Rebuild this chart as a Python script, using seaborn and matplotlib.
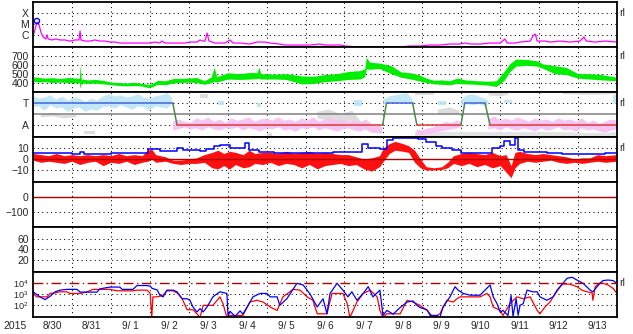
import numpy as np
import matplotlib
matplotlib.use("Agg")
import matplotlib.pyplot as plt
import seaborn as sns
import pandas as pd

sns.set_style("white")
plt.rcParams['font.family'] = ['Liberation Sans', 'DejaVu Sans']
plt.rcParams['mathtext.fontset'] = 'custom'
plt.rcParams['mathtext.rm'] = 'Liberation Sans'
plt.rcParams['mathtext.it'] = 'Liberation Sans'
plt.rcParams['mathtext.default'] = 'regular'

NaN = np.nan

# ---------------- data (time in days since 8/30 00:00) ----------------
day_labels = ["8/30", "8/31", "9/ 1", "9/ 2", "9/ 3", "9/ 4", "9/ 5", "9/ 6",
              "9/ 7", "9/ 8", "9/ 9", "9/10", "9/11", "9/12", "9/13"]
year_label = "2015"

# X-ray flux (log10 W/m2)
xray_t = [0.00, 0.05, 0.10, 0.15, 0.21, 0.26, 0.33, 0.36, 0.39, 0.49, 0.59, 0.69, 0.82, 0.95,
          1.08, 1.18, 1.21, 1.23, 1.34, 1.46, 1.59, 1.72, 1.85, 1.98, 2.11, 2.23, 2.49, 2.75,
          3.01, 3.13, 3.26, 3.31, 3.39, 3.65, 3.90, 4.03, 4.21, 4.29, 4.37, 4.42, 4.47, 4.52,
          4.60, 4.68, 4.93, 5.06, 5.14, 5.32, 5.57, 5.75, 5.96, 6.09, 6.34, 6.47, 6.86, 7.12,
          7.37, 7.50, 7.89, 8.01, 8.40, 9.43, 9.68, 9.94, 10.20, 10.45, 10.71, 10.97, 11.10,
          11.23, 11.48, 11.74, 12.00, 12.12, 12.18, 12.38, 12.51, 12.77, 12.84, 12.90, 12.95,
          13.15, 13.28, 13.54, 13.79, 14.05, 14.15, 14.21, 14.44, 14.69, 15.00]
xray_log = [-6.09, -5.55, -4.82, -5.00, -5.82, -6.18, -6.36, -6.00, -6.36, -6.45, -6.36, -6.45,
            -6.45, -6.55, -6.45, -6.45, -5.64, -6.45, -6.55, -6.55, -6.45, -6.55, -6.55, -6.64,
            -6.64, -6.73, -6.73, -6.73, -6.73, -6.64, -6.73, -6.55, -6.73, -6.73, -6.73, -6.64,
            -6.64, -6.45, -6.55, -6.55, -5.82, -6.55, -6.64, -6.73, -6.73, -6.45, -6.73, -6.73,
            -6.82, -6.64, -6.64, -6.73, -6.82, -6.91, -6.91, -6.91, -6.82, -6.91, -6.91, -7.00,
            -7.09, -7.09, -7.00, -7.00, -6.91, -6.91, -6.82, -6.82, -6.73, -6.82, -6.82, -6.73,
            -6.73, -6.36, -6.73, -6.73, -6.64, -6.55, -6.09, -5.91, -6.55, -6.55, -6.64, -6.55,
            -6.64, -6.55, -6.18, -6.55, -6.64, -6.55, -6.64]
flare_t = [0.10]
flare_log = [-4.73]
xray_ticks = [1e-6, 1e-5, 1e-4]
xray_labels = ["C", "M", "X"]

# Solar wind speed envelope (km/s)
speed_t = [0.00, 0.15, 0.30, 0.50, 0.70, 0.90, 1.10, 1.19, 1.21, 1.24, 1.40, 1.60, 1.80, 2.00,
           2.20, 2.40, 2.60, 2.80, 2.95, 3.05, 3.20, 3.40, 3.60, 3.80, 4.00, 4.20, 4.40, 4.58,
           4.65, 4.72, 5.00, 5.30, 5.60, 5.75, 5.80, 5.85, 6.20, 6.50, 6.90, 7.20, 7.50, 7.80,
           8.10, 8.40, 8.52, 8.56, 8.65, 8.90, 9.20, 9.45, 9.70, 9.90, 10.10, 10.30, 10.50,
           10.70, 10.90, 11.10, 11.40, 11.70, 11.90, 12.10, 12.25, 12.40, 12.70, 12.95, 13.10,
           13.40, 13.70, 14.00, 14.30, 14.60, 15.00]
speed_lo = [420, 410, 415, 405, 410, 405, 400, 405, 340, 400, 395, 398, 390, 380, 372, 368, 372,
            365, 350, 355, 385, 380, 400, 405, 410, 405, 385, 405, 420, 410, 445, 440, 445, 450,
            455, 445, 445, 440, 390, 395, 415, 425, 440, 445, 470, 560, 555, 565, 505, 465, 445,
            425, 405, 390, 385, 380, 395, 390, 385, 375, 360, 430, 530, 590, 600, 590, 565, 505,
            495, 455, 445, 435, 425]
speed_hi = [470, 462, 455, 460, 450, 462, 455, 450, 600, 445, 435, 440, 430, 410, 405, 400, 408,
            395, 385, 390, 430, 425, 450, 452, 455, 462, 425, 470, 580, 470, 515, 505, 520, 515,
            580, 505, 500, 505, 480, 475, 495, 505, 530, 540, 560, 690, 635, 625, 595, 525, 515,
            495, 455, 430, 435, 425, 455, 435, 425, 420, 425, 530, 620, 670, 665, 650, 615, 595,
            575, 505, 505, 495, 465]
speed_ticks = [400, 500, 600, 700]

# Magnetic classification step line (3 = T, 1 = A, 2 = boundary)
status_t = [0.00, 3.59, 3.70, 8.98, 9.08, 9.75, 9.86, 10.99, 11.09, 11.61, 11.74, 15.00]
status_v = [3, 3, 1, 1, 3, 3, 1, 1, 3, 3, 1, 1]
ta_ticks = [1, 3]
ta_labels = ["A", "T"]
ta_boundary = 2

cyan_t = [0.00, 0.15, 0.30, 0.45, 0.60, 0.75, 0.90, 1.05, 1.20, 1.35, 1.50, 1.65, 1.80, 1.95,
          2.10, 2.25, 2.40, 2.55, 2.70, 2.85, 3.00, 3.15, 3.30, 3.45, 3.57, 3.58,
          4.75, 4.90, 4.91, 5.75, 5.85, 5.86, 8.25, 8.45, 8.46,
          9.00, 9.15, 9.30, 9.45, 9.60, 9.75, 9.76, 10.40, 10.60, 10.61,
          11.00, 11.15, 11.30, 11.45, 11.60, 11.70, 11.71, 12.10, 12.30, 12.31, 14.90, 15.00]
cyan_lo = [2.6, 2.7, 2.3, 2.8, 2.5, 2.6, 2.2, 2.5, 2.6, 2.2, 2.4, 2.3, 2.6, 2.7, 2.5, 2.8, 2.6,
           2.4, 2.7, 2.6, 2.3, 2.7, 2.6, 2.5, 2.9, NaN,
           2.8, 2.8, NaN, 2.6, 2.6, NaN, 2.7, 2.7, NaN,
           2.9, 3.0, 3.0, 3.1, 3.0, 2.9, NaN, 2.8, 2.8, NaN,
           2.8, 2.9, 2.8, 2.9, 2.7, 2.8, NaN, 3.0, 3.0, NaN, 2.9, 2.9]
cyan_hi = [3.6, 3.4, 3.5, 3.7, 3.3, 3.6, 3.2, 3.5, 3.4, 3.1, 3.4, 3.2, 3.6, 3.8, 3.6, 3.7, 3.5,
           3.6, 3.8, 3.5, 3.4, 3.6, 3.7, 3.9, 3.5, NaN,
           3.2, 3.2, NaN, 3.0, 3.0, NaN, 3.3, 3.3, NaN,
           3.3, 3.6, 3.7, 3.8, 3.9, 3.4, NaN, 3.2, 3.2, NaN,
           3.3, 3.7, 3.8, 3.6, 3.4, 3.2, NaN, 3.3, 3.3, NaN, 3.7, 3.7]

pink_t = [3.60, 3.75, 3.90, 4.05, 4.20, 4.35, 4.50, 4.65, 4.80, 4.95, 5.10, 5.25, 5.40, 5.55,
          5.70, 5.85, 6.00, 6.15, 6.30, 6.45, 6.60, 6.75, 6.90, 7.05, 7.20, 7.35, 7.50, 7.65,
          7.80, 7.95, 8.10, 8.25, 8.40, 8.55, 8.70, 8.85, 8.97, 8.98,
          9.85, 10.00, 10.15, 10.30, 10.45, 10.60, 10.75, 10.90, 11.00, 11.01,
          11.70, 11.85, 12.00, 12.15, 12.30, 12.45, 12.60, 12.75, 12.90, 13.05, 13.20, 13.35,
          13.50, 13.65, 13.80, 13.95, 14.10, 14.25, 14.40, 14.55, 14.70, 14.85, 15.00]
pink_lo = [0.5, 0.6, 0.8, 0.6, 0.7, 0.5, 0.8, 0.6, 0.5, 0.7, 0.6, 0.8, 0.5, 0.7, 0.6, 0.4, 0.7,
           0.6, 0.8, 0.5, 0.6, 0.4, 0.7, 0.6, 0.8, 0.5, 0.7, 0.6, 0.4, 0.6, 0.7, 0.5, 0.4, 0.6,
           0.3, 0.4, 0.2, NaN,
           0.1, 0.1, 0.2, 0.3, 0.4, 0.5, 0.6, 0.7, 0.8, NaN,
           0.6, 0.7, 0.5, 0.8, 0.6, 0.5, 0.7, 0.6, 0.4, 0.7, 0.5, 0.6, 0.8, 0.5, 0.6, 0.4, 0.7,
           0.5, 0.6, 0.4, 0.3, 0.5, 0.6]
pink_hi = [1.3, 1.5, 1.3, 1.2, 1.6, 1.4, 1.7, 1.3, 1.5, 1.2, 1.6, 1.4, 1.5, 1.7, 1.3, 1.5, 1.6,
           1.4, 1.7, 1.4, 1.5, 1.3, 1.6, 1.4, 1.7, 1.3, 1.5, 1.6, 1.4, 1.5, 1.3, 1.4, 1.2, 1.5,
           1.1, 1.0, 0.8, NaN,
           0.6, 0.5, 0.7, 0.8, 1.0, 1.3, 1.2, 1.4, 1.2, NaN,
           1.5, 1.8, 1.4, 1.6, 1.4, 1.7, 1.5, 1.3, 1.6, 1.4, 1.5, 1.3, 1.6, 1.4, 1.5, 1.3, 1.6,
           1.2, 1.4, 1.1, 1.3, 1.5, 1.4]

gray_t = [0.20, 0.50, 0.80, 1.10, 1.11, 1.30, 1.60, 1.61, 4.30, 4.50, 4.51, 6.00, 6.15, 6.16,
          7.30, 7.60, 7.90, 8.20, 8.40, 8.70, 8.95, 8.96, 9.80, 10.30, 10.31,
          10.40, 10.70, 10.95, 10.96, 11.70, 12.00, 12.20, 12.21, 13.60, 14.30, 15.00]
gray_lo = [1.7, 1.8, 1.6, 1.7, NaN, 0.2, 0.2, NaN, 3.5, 3.5, NaN, 0.0, 0.0, NaN,
           1.6, 1.4, 1.2, 1.4, 0.9, 0.3, 0.2, NaN, 3.75, 3.75, NaN,
           1.9, 2.0, 2.0, NaN, 3.7, 3.6, 3.75, NaN, 3.8, 3.75, 3.8]
gray_hi = [1.95, 2.1, 1.9, 1.95, NaN, 0.5, 0.5, NaN, 3.8, 3.8, NaN, 0.3, 0.3, NaN,
           2.2, 2.4, 2.0, 2.3, 1.4, 0.8, 0.5, NaN, 3.95, 3.95, NaN,
           2.4, 2.6, 2.3, NaN, 3.95, 3.9, 3.95, NaN, 3.95, 3.95, 3.95]
gray2_t = [9.80, 10.30, 13.60, 14.30, 15.00]
gray2_lo = [0.05, 0.05, 0.05, 0.05, 0.05]
gray2_hi = [0.4, 0.4, 0.4, 0.3, 0.4]

# IMF Bt (nT)
bt_t = [0.00, 0.50, 1.00, 1.20, 1.30, 2.00, 2.85, 2.95, 3.15, 3.25, 3.60, 3.70, 3.85, 4.30,
        4.45, 4.65, 4.80, 5.00, 5.05, 5.30, 5.45, 5.55, 5.80, 6.20, 7.00, 7.70, 8.15, 8.45,
        8.60, 8.90, 9.10, 9.25, 9.50, 9.90, 10.10, 10.35, 10.50, 10.75, 11.00, 11.70, 11.80,
        12.00, 12.10, 12.25, 12.38, 12.45, 12.60, 13.20, 13.60, 14.20, 14.70, 15.00]
bt_v = [5.5, 5.2, 5.0, 6.0, 5.0, 5.2, 5.5, 9.2, 9.5, 7.0, 7.0, 9.8, 8.0, 7.5, 9.0, 12.0, 13.0,
        12.5, 10.0, 10.0, 14.5, 8.0, 6.5, 5.5, 5.5, 6.5, 6.5, 13.5, 10.0, 9.0, 17.0, 19.5, 19.0,
        18.5, 15.5, 12.0, 10.0, 8.0, 5.5, 5.2, 10.0, 12.0, 16.0, 13.0, 19.0, 8.5, 6.0, 5.5, 5.0,
        4.8, 5.5, 5.5]
# IMF Bz envelope (nT)
bz_t = [0.00, 0.20, 0.40, 0.60, 0.80, 1.00, 1.20, 1.40, 1.60, 1.80, 2.00, 2.20, 2.40, 2.60,
        2.80, 2.95, 3.05, 3.15, 3.40, 3.60, 3.80, 4.00, 4.20, 4.40, 4.60, 4.75, 4.90, 5.05,
        5.20, 5.40, 5.55, 5.70, 5.90, 6.10, 6.30, 6.50, 6.70, 6.90, 7.10, 7.30, 7.50, 7.70,
        7.90, 8.10, 8.30, 8.50, 8.70, 8.90, 9.00, 9.15, 9.30, 9.50, 9.65, 9.80, 9.95, 10.10,
        10.30, 10.50, 10.65, 10.80, 11.00, 11.20, 11.40, 11.60, 11.80, 12.00, 12.15, 12.28,
        12.38, 12.50, 12.70, 12.90, 13.10, 13.30, 13.50, 13.70, 13.90, 14.10, 14.30, 14.50,
        14.70, 15.00]
bz_lo = [-1, -3, -2, -3, -4, -2, -5, -3, -2, -6, -3, -4, -2, -5, -3, -2, 0, -3, -2, -4, -5, -4,
         -4, -3, -8, -9, -6, -9, -5, -8, -7, -4, -5, -3, -6, -4, -5, -8, -5, -9, -6, -5, -4, -6,
         -5, -9, -11, -7, -2, 5, 8, 7, 6, -3, -8, -10, -10, -9.5, -8, -4, -6, -4, -7, -5, -8,
         -6, -12, -17, -8, -4, -2, -3, -2, -1, -3, -4, -3, -4, -3, -2, -3, -2]
bz_hi = [5, 4, 3, 5, 3, 4, 3, 4, 3, 4, 3, 5, 3, 4, 3, 8, 9, 4, 2, -1, -1, 0, 1, 4, 6, 8, 5, 7,
         6, 4, 8, 5, 6, 6, 5, 7, 5, 6, 7, 5, 6, 5, 4, 4, 2, 0, 1, 3, 10, 14, 16, 14, 12, 8, 0,
         -7, -8, -7, -3, 3, 5, 6, 5, 4, 6, 3, 4, -6, 6, 7, 5, 4, 5, 4, 3, 2, 0, 1, 1, 4, 3, 4]
imf_ticks = [-10, 0, 10]

dst_ticks = [-100, 0]
kp_ticks = [20, 40, 60]

# Electron flux (log10)
eb_t = [0.00, 0.18, 0.31, 0.44, 0.57, 0.69, 0.87, 1.13, 1.21, 1.64, 1.72, 1.98, 2.23, 2.29,
        2.57, 2.67, 2.93, 3.01, 3.06, 3.19, 3.26, 3.34, 3.44, 3.60, 3.70, 3.83, 3.96, 4.03,
        4.11, 4.21, 4.29, 4.37, 4.47, 4.62, 4.80, 4.98, 5.01, 5.06, 5.19, 5.32, 5.39, 5.50,
        5.65, 5.83, 6.01, 6.09, 6.27, 6.34, 6.52, 6.78, 6.94, 7.12, 7.30, 7.45, 7.55, 7.63,
        7.81, 7.96, 8.09, 8.19, 8.32, 8.48, 8.61, 8.73, 8.91, 8.99, 9.09, 9.25, 9.43, 9.61,
        9.76, 9.86, 9.94, 10.12, 10.20, 10.38, 10.45, 10.53, 10.71, 10.84, 10.92, 11.05,
        11.23, 11.48, 11.61, 11.74, 11.82, 11.92, 12.00, 12.07, 12.20, 12.28, 12.33, 12.41,
        12.46, 12.51, 12.59, 12.69, 12.84, 12.95, 13.02, 13.20, 13.36, 13.46, 13.54, 13.61,
        13.72, 13.85, 13.97, 14.13, 14.31, 14.38, 14.49, 14.56, 14.64, 14.77, 14.90, 15.00]
eb_log = [3.23, 2.77, 2.52, 2.83, 3.23, 3.38, 3.45, 3.45, 3.20, 3.20, 3.50, 3.66, 3.66, 3.45,
          3.45, 3.80, 3.80, 3.74, 3.54, 3.40, 2.92, 2.77, 3.38, 3.38, 3.23, 2.60, 2.60, 2.46,
          1.85, 1.40, 1.70, 1.40, 1.85, 2.77, 3.23, 3.08, 1.00, 1.46, 1.00, 1.50, 1.20, 1.85,
          2.77, 3.08, 3.08, 2.77, 2.77, 2.00, 2.60, 4.00, 3.85, 3.00, 1.85, 2.60, 1.23, 3.08,
          4.00, 3.38, 2.77, 3.23, 2.46, 3.08, 3.70, 2.77, 3.38, 1.08, 1.54, 1.20, 1.80, 2.30,
          2.40, 2.00, 1.80, 1.60, 1.08, 1.08, 0.90, 1.85, 2.77, 3.69, 3.38, 3.08, 2.92, 2.92,
          3.38, 3.85, 2.77, 2.15, 1.38, 1.54, 1.08, 2.90, 1.00, 2.60, 1.10, 2.00, 2.15, 3.38,
          3.23, 3.23, 2.77, 2.46, 2.77, 3.38, 3.70, 4.00, 4.46, 4.55, 4.30, 4.00, 3.38, 3.23,
          3.70, 4.00, 4.25, 4.30, 4.25, 4.00]
er_t = [0.00, 0.10, 0.36, 0.44, 0.57, 0.69, 0.87, 0.95, 1.21, 1.39, 1.54, 1.98, 2.16, 2.57,
        2.67, 2.93, 3.01, 3.05, 3.08, 3.19, 3.34, 3.44, 3.60, 3.72, 3.83, 3.96, 4.11, 4.21,
        4.29, 4.37, 4.62, 4.73, 4.80, 4.88, 4.98, 5.06, 5.39, 5.57, 5.75, 5.91, 6.09, 6.27,
        6.42, 6.68, 6.86, 7.04, 7.19, 7.30, 7.55, 7.68, 7.96, 8.07, 8.14, 8.32, 8.48, 8.66,
        8.84, 8.91, 8.99, 9.09, 9.43, 9.61, 9.76, 9.94, 10.12, 10.28, 10.45, 10.63, 10.79,
        10.89, 10.97, 11.15, 11.48, 11.66, 11.74, 11.82, 12.00, 12.07, 12.25, 12.43, 12.59,
        12.77, 12.95, 13.02, 13.15, 13.28, 13.36, 13.54, 13.61, 13.79, 13.97, 14.10, 14.23,
        14.36, 14.38, 14.44, 14.56, 14.64, 14.77, 14.90, 15.00]
er_log = [3.08, 2.77, 2.77, 3.08, 3.14, 3.23, 3.23, 3.08, 3.08, 3.23, 3.45, 3.45, 3.32, 3.32,
          3.38, 3.38, 3.08, 0.90, 2.77, 2.77, 2.92, 3.32, 3.32, 3.08, 2.60, 1.60, 1.60, 1.23,
          0.90, 2.00, 2.00, 2.46, 2.77, 2.15, 0.90, 1.08, 1.08, 2.30, 2.46, 2.30, 1.85, 1.54,
          2.77, 3.45, 3.38, 2.77, 2.46, 1.23, 1.23, 3.08, 3.08, 2.15, 0.90, 2.30, 3.08, 3.38,
          2.77, 1.54, 0.90, 1.23, 1.23, 2.46, 2.30, 2.00, 1.54, 0.90, 1.23, 2.46, 2.30, 2.60,
          2.77, 2.77, 2.77, 3.08, 2.77, 1.85, 1.54, 1.08, 2.15, 2.77, 2.60, 2.77, 1.54, 1.23,
          1.85, 2.30, 2.77, 3.70, 3.94, 3.92, 3.70, 3.38, 3.23, 3.14, 2.46, 3.70, 4.00, 4.00,
          3.85, 3.54, 3.08]
e_ticks = [1e2, 1e3, 1e4]
e_tick_labels = [r'$10^2$', r'$10^3$', r'$10^4$']
e_threshold = 1e4

# ---------------- layout ----------------
W, H = 633, 334
fig = plt.figure(figsize=(W / 100, H / 100), dpi=100)
L, R = 33, 617
edges = [2, 47, 92, 137, 182, 227, 272, 317]
axes = []
for i in range(7):
    top, bot = edges[i], edges[i + 1]
    ax = fig.add_axes([L / W, 1 - bot / H, (R - L) / W, (bot - top) / H])
    axes.append(ax)

FS = 7.5
grid_kw = dict(color='black', linestyle=(0, (1, 3.2)), linewidth=0.75)


def style(ax, ylim, ticks, labels=None, log=False):
    if log:
        ax.set_yscale('log')
    ax.set_xlim(0, 15)
    ax.set_ylim(*ylim)
    ax.set_xticks(range(1, 15))
    ax.set_xticklabels([])
    ax.set_yticks(ticks)
    ax.yaxis.set_minor_locator(matplotlib.ticker.NullLocator())
    if labels is not None:
        ax.set_yticklabels(labels)
    ax.tick_params(axis='both', which='both', length=0, labelsize=FS, pad=3)
    ax.grid(True, which='major', **grid_kw)
    ax.set_axisbelow(True)
    for s in ax.spines.values():
        s.set_visible(True)
        s.set_color('black')
        s.set_linewidth(1.3)
    ax.set_facecolor('white')
    ax.set_xlabel('')
    ax.set_ylabel('')


def rl(ax, yval):
    ax.text(1.004, yval, "rl", transform=ax.get_yaxis_transform(), fontsize=FS,
            ha='left', va='center')


# Panel 1: X-ray
ax = axes[0]
df = pd.DataFrame({'t': xray_t, 'f': 10 ** np.array(xray_log)})
sns.lineplot(data=df, x='t', y='f', ax=ax, color='#ff00ff', lw=0.9, estimator=None, sort=False)
ax.scatter(flare_t, 10 ** np.array(flare_log), s=14, facecolors='none', edgecolors='#0000ff',
           linewidths=1.0, zorder=5)
style(ax, (10 ** -7.09, 1e-3), xray_ticks, xray_labels, log=True)
rl(ax, 1e-4)

# Panel 2: solar wind speed
ax = axes[1]
ax.fill_between(speed_t, speed_lo, speed_hi, color='#00ee00', lw=0)
style(ax, (298, 807), speed_ticks)
rl(ax, 700)

# Panel 3: T / A classification
ax = axes[2]
ax.fill_between(gray_t, gray_lo, gray_hi, color='#dddddd', lw=0)
ax.fill_between(gray2_t, gray2_lo, gray2_hi, color='#e2e2e2', lw=0)
ax.fill_between(cyan_t, cyan_lo, cyan_hi, color='#b8e4f6', lw=0, alpha=0.85)
ax.fill_between(pink_t, pink_lo, pink_hi, color='#f8bef2', lw=0, alpha=0.9)
ax.axhline(ta_boundary, color='#808080', lw=1.1)
for i in range(len(status_t) - 1):
    v0, v1 = status_v[i], status_v[i + 1]
    if v0 != v1:
        c = '#4a8a4a'
    elif v0 == 3:
        c = '#4466e6'
    else:
        c = '#e23a3a'
    ax.plot(status_t[i:i + 2], status_v[i:i + 2], color=c, lw=1.1)
style(ax, (-0.09, 4.0), ta_ticks, ta_labels)
rl(ax, 3)

# Panel 4: IMF
ax = axes[3]
ax.fill_between(bz_t, bz_lo, bz_hi, color='#ff1010', lw=0)
ax.axhline(0, color='#b00000', lw=1.0)
dfb = pd.DataFrame({'t': bt_t, 'v': bt_v})
sns.lineplot(data=dfb, x='t', y='v', ax=ax, color='#0000ff', lw=1.1, estimator=None, sort=False,
             drawstyle='steps-post')
style(ax, (-20.9, 20), imf_ticks)
rl(ax, 10)

# Panel 5: Dst
ax = axes[4]
ax.axhline(0, color='#b00000', lw=1.0)
style(ax, (-200, 100), dst_ticks)

# Panel 6: empty
ax = axes[5]
style(ax, (-2.2, 82), kp_ticks)

# Panel 7: electron flux
ax = axes[6]
ax.axhline(e_threshold, color='#b00000', lw=1.0, linestyle=(0, (7, 2.5, 1, 2.5)), zorder=3)
dfe = pd.DataFrame({'t': eb_t, 'f': 10 ** np.array(eb_log)})
dfr = pd.DataFrame({'t': er_t, 'f': 10 ** np.array(er_log)})
sns.lineplot(data=dfr, x='t', y='f', ax=ax, color='#ff0000', lw=0.9, estimator=None, sort=False)
sns.lineplot(data=dfe, x='t', y='f', ax=ax, color='#0000ff', lw=0.9, estimator=None, sort=False)
style(ax, (10 ** 0.94, 10 ** 5.03), e_ticks, e_tick_labels, log=True)
ax.tick_params(axis='y', labelsize=6.6, pad=3)
ax.grid(False, axis='y')
for yv in e_ticks[:2]:
    ax.axhline(yv, **grid_kw, zorder=0.5)
ax.set_xticks(np.arange(0.5, 15, 1), minor=True)
ax.set_xticklabels(day_labels, minor=True)
ax.tick_params(axis='x', which='minor', labelsize=7.2, pad=3, length=0)
rl(ax, 1e4)

fig.text(3 / W, 1 - 326 / H, year_label, fontsize=FS, ha='left', va='center')

fig.savefig("out.png", dpi=100)
